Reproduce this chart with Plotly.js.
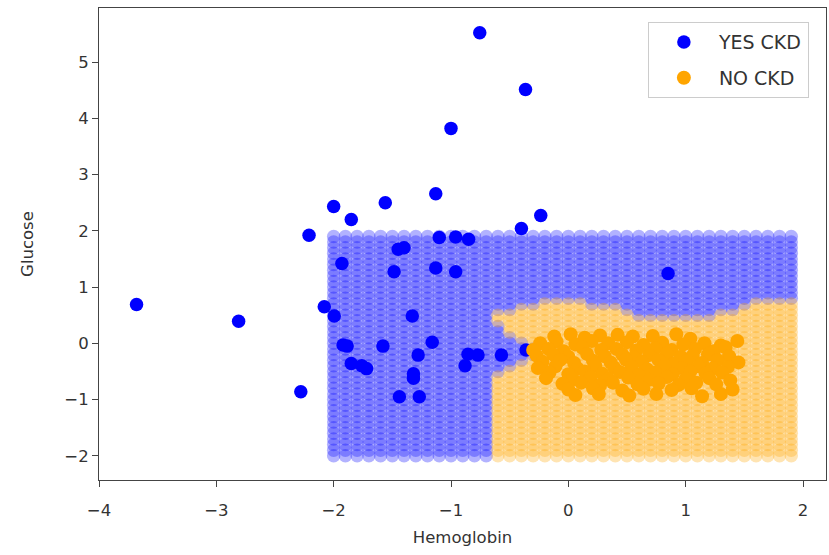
<!DOCTYPE html>
<html>
<head>
<meta charset="utf-8">
<script src="https://cdn.plot.ly/plotly-3.0.1.min.js"></script>
<style>html,body{margin:0;padding:0;background:#fff;}#chart{width:829px;height:555px;}</style>
</head>
<body>
<div id="chart"></div>
<script>
// Decision-region grid (columns = Hemoglobin, rows = Glucose)
const gridCols = [-2.0,-1.9,-1.8,-1.7,-1.6,-1.5,-1.4,-1.3,-1.2,-1.1,-1.0,-0.9,-0.8,-0.7,-0.6,-0.5,-0.4,-0.3,-0.2,-0.1,0.0,0.1,0.2,0.3,0.4,0.5,0.6,0.7,0.8,0.9,1.0,1.1,1.2,1.3,1.4,1.5,1.6,1.7,1.8,1.9];
const gridRows = [-2.0,-1.9,-1.8,-1.7,-1.6,-1.5,-1.4,-1.3,-1.2,-1.1,-1.0,-0.9,-0.8,-0.7,-0.6,-0.5,-0.4,-0.3,-0.2,-0.1,0.0,0.1,0.2,0.3,0.4,0.5,0.6,0.7,0.8,0.9,1.0,1.1,1.2,1.3,1.4,1.5,1.6,1.7,1.8,1.9];
// highest Glucose row predicted "NO CKD" in each column (null = whole column "YES CKD")
const orangeTop = [null,null,null,null,null,null,null,null,null,null,null,null,null,null,0.5,0.5,0.6,0.6,0.7,0.7,0.7,0.7,0.6,0.6,0.6,0.5,0.4,0.4,0.4,0.4,0.4,0.4,0.4,0.5,0.5,0.6,0.7,0.7,0.7,0.7];
// "YES CKD" pocket inside the "NO CKD" area
const wedgeLow  = [null,null,null,null,null,null,null,null,null,null,null,null,null,null,-0.5,-0.4,-0.3,-0.2,null,null,null,null,null,null,null,null,null,null,null,null,null,null,null,null,null,null,null,null,null,null];
const wedgeHigh = [null,null,null,null,null,null,null,null,null,null,null,null,null,null,0.3,0.1,0.0,-0.1,null,null,null,null,null,null,null,null,null,null,null,null,null,null,null,null,null,null,null,null,null,null];

// Observed points
const yesHemoglobin = [-0.755,-0.365,-1.0,-1.13,-1.56,-2.0,-1.85,-2.21,-0.235,-0.40,-1.10,-0.96,-0.85,-1.45,-1.40,-1.93,-1.485,-1.13,-0.96,-2.08,-1.995,-1.33,-1.92,-1.885,-1.58,-1.16,-1.28,-1.85,-1.76,-1.72,-0.855,-0.77,-0.88,-0.57,-0.36,-1.32,-1.32,-1.44,-1.27,-2.28,-3.68,-2.81,0.85];
const yesGlucose    = [5.52,4.51,3.82,2.66,2.50,2.43,2.20,1.92,2.27,2.04,1.88,1.89,1.85,1.67,1.70,1.42,1.27,1.34,1.27,0.65,0.485,0.485,-0.03,-0.05,-0.05,0.02,-0.21,-0.36,-0.40,-0.45,-0.195,-0.21,-0.40,-0.21,-0.12,-0.54,-0.62,-0.95,-0.95,-0.86,0.69,0.39,1.24];

const noHemoglobin = [
 -0.12,0.02,0.14,0.27,0.42,0.55,0.72,0.92,1.04,
 -0.24,-0.1,0.06,0.2,0.34,0.5,0.64,0.8,0.98,1.16,1.3,1.44,
 -0.3,-0.17,-0.04,0.12,0.28,0.41,0.58,0.74,0.88,1.08,1.24,1.34,
 -0.27,-0.13,0.0,0.16,0.31,0.46,0.56,0.69,0.84,0.96,1.06,1.19,1.37,
 -0.22,-0.07,0.05,0.21,0.36,0.49,0.63,0.77,0.9,1.01,1.14,1.27,1.45,
 -0.26,-0.11,0.08,0.23,0.39,0.54,0.67,0.82,0.97,1.11,1.23,1.36,
 -0.16,0.0,0.14,0.29,0.44,0.6,0.74,0.89,1.04,1.17,1.31,
 -0.19,0.04,0.19,0.34,0.51,0.69,0.84,1.0,1.2,1.38,
 -0.05,0.11,0.27,0.38,0.59,0.77,0.94,1.09,1.26,
 0.0,0.21,0.46,0.64,0.88,1.05,1.4,
 0.06,0.26,0.52,0.75,1.14,1.3];
const noGlucose = [
 0.12,0.16,0.1,0.14,0.15,0.12,0.13,0.16,0.08,
 0.0,0.03,-0.02,0.04,0.0,0.02,-0.03,0.01,-0.02,0.0,-0.04,0.04,
 -0.12,-0.1,-0.14,-0.08,-0.12,-0.1,-0.13,-0.09,-0.12,-0.1,-0.14,-0.07,
 -0.22,-0.2,-0.24,-0.19,-0.23,-0.2,-0.25,-0.21,-0.18,-0.24,-0.22,-0.2,-0.23,
 -0.33,-0.3,-0.35,-0.31,-0.34,-0.29,-0.33,-0.3,-0.36,-0.31,-0.35,-0.3,-0.34,
 -0.44,-0.41,-0.45,-0.4,-0.43,-0.42,-0.46,-0.4,-0.44,-0.41,-0.45,-0.42,
 -0.52,-0.55,-0.5,-0.54,-0.51,-0.56,-0.52,-0.55,-0.5,-0.54,-0.52,
 -0.62,-0.64,-0.6,-0.63,-0.61,-0.65,-0.6,-0.63,-0.62,-0.66,
 -0.72,-0.7,-0.75,-0.7,-0.73,-0.71,-0.74,-0.7,-0.73,
 -0.82,-0.8,-0.84,-0.81,-0.83,-0.8,-0.82,
 -0.92,-0.9,-0.93,-0.9,-0.94,-0.9];

const xTicks = [-4,-3,-2,-1,0,1,2];
const yTicks = [-2,-1,0,1,2,3,4,5];

const BLUE = '#0000ff', ORANGE = '#ffa500';

// classify grid cells from the per-column tables
const gbx=[],gby=[],gox=[],goy=[];
gridCols.forEach((cx,i)=>{
  gridRows.forEach(ry=>{
    let orange = orangeTop[i]!==null && ry <= orangeTop[i] + 1e-9;
    if (orange && wedgeLow[i]!==null && ry >= wedgeLow[i]-1e-9 && ry <= wedgeHigh[i]+1e-9) orange = false;
    if (orange){gox.push(cx);goy.push(ry);} else {gbx.push(cx);gby.push(ry);}
  });
});

const gridMarker = c => ({color:c, size:13.5, opacity:0.3, line:{width:0}});
const traces = [
  {x:gbx,y:gby,type:'scatter',mode:'markers',marker:gridMarker(BLUE),showlegend:false,hoverinfo:'skip'},
  {x:gox,y:goy,type:'scatter',mode:'markers',marker:gridMarker(ORANGE),showlegend:false,hoverinfo:'skip'},
  {x:yesHemoglobin,y:yesGlucose,type:'scatter',mode:'markers',name:'YES CKD',legendgroup:'a',marker:{color:BLUE,size:13.5,line:{width:0}}},
  {x:noHemoglobin,y:noGlucose,type:'scatter',mode:'markers',name:'NO CKD',legendgroup:'b',marker:{color:ORANGE,size:14,line:{width:0}}}
];

const axisCommon = {
  showgrid:false, zeroline:false, showline:true, mirror:true, linecolor:'#444', linewidth:1,
  ticks:'outside', ticklen:6, tickcolor:'#444', tickfont:{family:'DejaVu Sans', size:16.5, color:'#333'}
};
const layout = {
  width:829, height:555,
  margin:{l:99, r:3, t:8, b:75},
  paper_bgcolor:'#fff', plot_bgcolor:'#fff',
  font:{family:'DejaVu Sans', color:'#333'},
  xaxis:Object.assign({}, axisCommon, {range:[-4,2.196], tickvals:xTicks, ticklabelstandoff:9,
        title:{text:'Hemoglobin', font:{size:16.5,color:'#333'}, standoff:12}}),
  yaxis:Object.assign({}, axisCommon, {range:[-2.43,5.96], tickvals:yTicks,
        title:{text:'Glucose', font:{size:16.5,color:'#333'}, standoff:26}}),
  legend:{x:0.755, y:0.97, xanchor:'left', yanchor:'top', bordercolor:'#cccccc', borderwidth:1, bgcolor:'rgba(255,255,255,0.9)',
          font:{family:'DejaVu Sans', size:19, color:'#333'}, traceorder:'grouped', tracegroupgap:8, itemwidth:60},
  showlegend:true
};
Plotly.newPlot('chart', traces, layout, {displayModeBar:false, staticPlot:true});
</script>
</body>
</html>
